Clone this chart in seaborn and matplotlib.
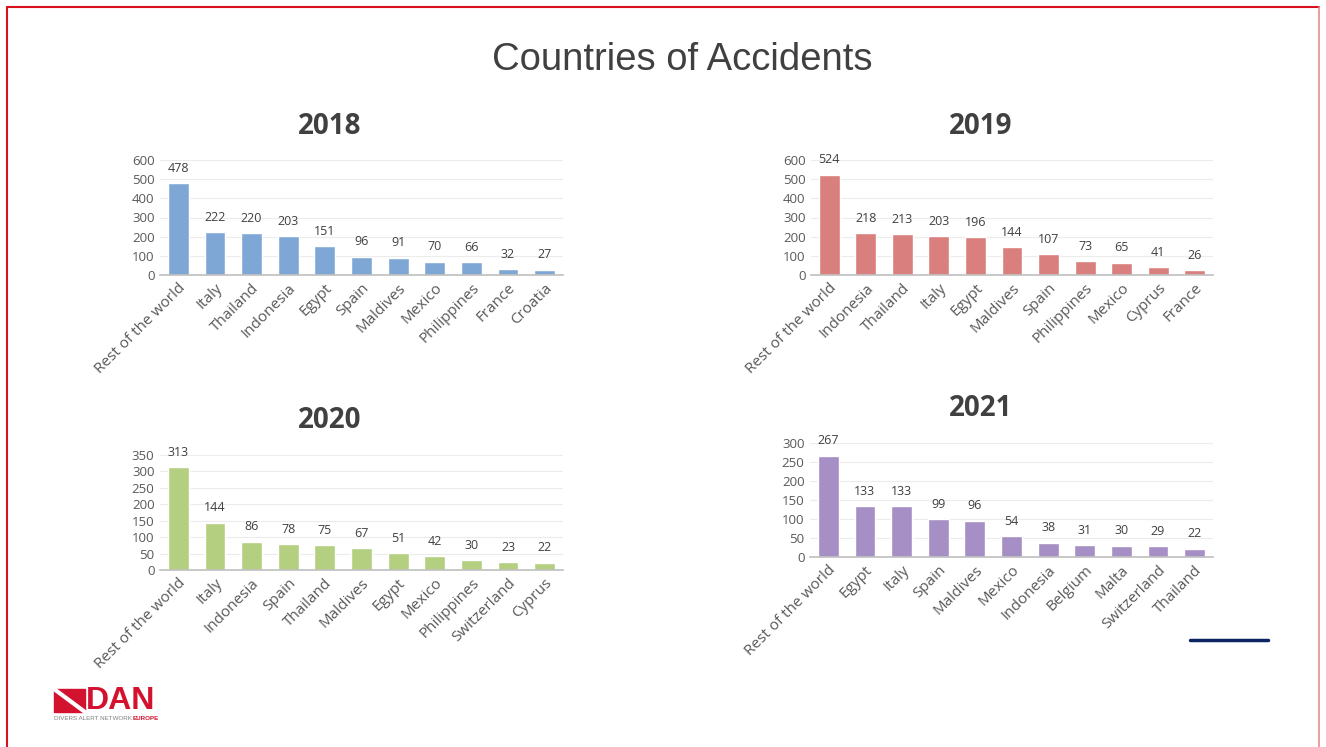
import matplotlib
matplotlib.use("Agg")
import matplotlib.pyplot as plt
import matplotlib.patches as mpatches
import seaborn as sns
import pandas as pd

# data
countries_2018 = ["Rest of the world", "Italy", "Thailand", "Indonesia", "Egypt", "Spain",
                  "Maldives", "Mexico", "Philippines", "France", "Croatia"]
values_2018 = [478, 222, 220, 203, 151, 96, 91, 70, 66, 32, 27]

countries_2019 = ["Rest of the world", "Indonesia", "Thailand", "Italy", "Egypt", "Maldives",
                  "Spain", "Philippines", "Mexico", "Cyprus", "France"]
values_2019 = [524, 218, 213, 203, 196, 144, 107, 73, 65, 41, 26]

countries_2020 = ["Rest of the world", "Italy", "Indonesia", "Spain", "Thailand", "Maldives",
                  "Egypt", "Mexico", "Philippines", "Switzerland", "Cyprus"]
values_2020 = [313, 144, 86, 78, 75, 67, 51, 42, 30, 23, 22]

countries_2021 = ["Rest of the world", "Egypt", "Italy", "Spain", "Maldives", "Mexico",
                  "Indonesia", "Belgium", "Malta", "Switzerland", "Thailand"]
values_2021 = [267, 133, 133, 99, 96, 54, 38, 31, 30, 29, 22]

sns.set_theme(style="white")
plt.rcParams["font.family"] = ["Open Sans", "DejaVu Sans"]

fig = plt.figure(figsize=(13.26, 7.47), dpi=100)

W, H = 1326, 747


def px_axes(x0, y_top, x1, y_bot):
    return fig.add_axes([x0 / W, 1 - y_bot / H, (x1 - x0) / W, (y_bot - y_top) / H])


# year, labels, values, colour, y max, y step, axes box in px, title x, title y
panels = [
    ("2018", countries_2018, values_2018, "#7fa7d6", 600, 100, (160, 160, 563, 275), 330, 126),
    ("2019", countries_2019, values_2019, "#d97f7e", 600, 100, (811, 160, 1213, 275), 981, 126),
    ("2020", countries_2020, values_2020, "#b4cf80", 350, 50, (160, 455, 563, 570), 330, 421),
    ("2021", countries_2021, values_2021, "#a58fc4", 300, 50, (810, 443, 1213, 557), 981, 408),
]

grey = "#595959"
for year, cats, vals, color, ymax, step, box, title_x, title_y in panels:
    ax = px_axes(*box)
    df = pd.DataFrame({"country": cats, "accidents": vals})
    sns.barplot(data=df, x="country", y="accidents", color=color, saturation=1,
                width=0.57, ax=ax)
    ax.set_ylim(0, ymax)
    ax.set_xlim(-0.5, len(cats) - 0.5)
    ax.set_yticks(range(0, ymax + 1, step))
    ax.yaxis.grid(True, color="#ececec", linewidth=0.8)
    ax.set_axisbelow(True)
    for s in ["top", "right", "left"]:
        ax.spines[s].set_visible(False)
    ax.spines["bottom"].set_color("#bfbfbf")
    ax.spines["bottom"].set_linewidth(1.2)
    ax.set_xlabel("")
    ax.set_ylabel("")
    ax.tick_params(axis="both", length=0, colors=grey, labelsize=9.5, pad=4)
    ax.set_xticks(range(len(cats)))
    ax.set_xticklabels(cats, rotation=45, ha="right", rotation_mode="anchor", fontsize=11)
    for lbl in ax.get_yticklabels():
        lbl.set_fontsize(9.5)
    ax.bar_label(ax.containers[0], padding=6, fontsize=9, color="#404040")
    fig.text(title_x / W, 1 - title_y / H, year, ha="center", va="center",
             fontsize=20, fontweight="bold", color="#404040")

fig.text(682 / W, 1 - 60 / H, "Countries of Accidents", ha="center", va="center",
         fontsize=27.5, color="#404040", family="Liberation Sans")

# slide frame
red = "#d9101e"
fig.add_artist(plt.Line2D([7 / W, 1319 / W], [1 - 7 / H, 1 - 7 / H], color=red, linewidth=1.5))
fig.add_artist(plt.Line2D([7 / W, 7 / W], [0, 1 - 7 / H], color=red, linewidth=1.5))
fig.add_artist(plt.Line2D([1319 / W, 1319 / W], [0, 1 - 7 / H], color="#e88a90", linewidth=1.2))

# dark blue accent line
fig.add_artist(plt.Line2D([1190 / W, 1268 / W], [1 - 640 / H, 1 - 640 / H], color="#0c2461",
                          linewidth=2.5))

# DAN logo
logo_red = "#d2122e"
fig.add_artist(mpatches.Rectangle((54 / W, 1 - 712 / H), 31 / W, 23 / H, color=logo_red,
                                  transform=fig.transFigure))
fig.add_artist(plt.Line2D([54 / W, 85 / W], [1 - 689 / H, 1 - 712 / H], color="white",
                          linewidth=3))
fig.text(86 / W, 1 - 701 / H, "DAN", ha="left", va="center", fontsize=23,
         fontweight="bold", color=logo_red, family="Liberation Sans")
fig.text(54 / W, 1 - 719 / H, "DIVERS ALERT NETWORK", ha="left", va="center", fontsize=4.5,
         color="#808080", family="Liberation Sans")
fig.text(133 / W, 1 - 719 / H, "EUROPE", ha="left", va="center", fontsize=4.5,
         color=logo_red, fontweight="bold", family="Liberation Sans")

fig.savefig("out.png", dpi=100)
